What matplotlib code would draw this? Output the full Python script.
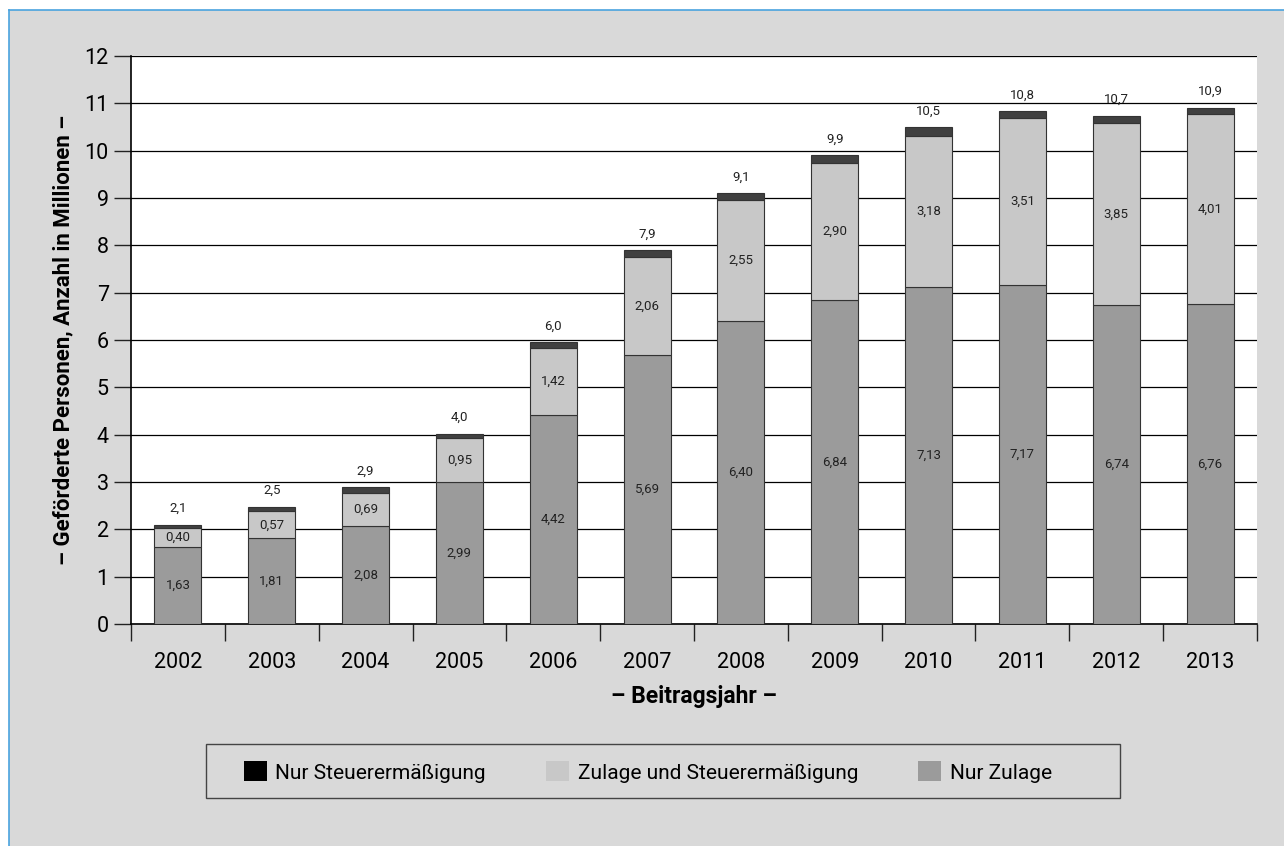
import numpy as np
import matplotlib
matplotlib.use('Agg')
import matplotlib.pyplot as plt
from matplotlib.patches import Rectangle, Patch
from matplotlib.lines import Line2D

plt.rcParams['font.family'] = ['Roboto', 'DejaVu Sans']

# data (Mio. Personen)
years = ['2002', '2003', '2004', '2005', '2006', '2007', '2008', '2009', '2010', '2011', '2012', '2013']
nur_zulage = [1.63, 1.81, 2.08, 2.99, 4.42, 5.69, 6.40, 6.84, 7.13, 7.17, 6.74, 6.76]
zulage_steuer = [0.40, 0.57, 0.69, 0.95, 1.42, 2.06, 2.55, 2.90, 3.18, 3.51, 3.85, 4.01]
nur_steuer = [0.07, 0.10, 0.12, 0.08, 0.12, 0.15, 0.16, 0.16, 0.19, 0.15, 0.15, 0.14]
totals = ['2,1', '2,5', '2,9', '4,0', '6,0', '7,9', '9,1', '9,9', '10,5', '10,8', '10,7', '10,9']

BG = '#d9d9d9'
W, H = 1284, 846
fig = plt.figure(figsize=(W / 100, H / 100), dpi=100)
fig.patch.set_facecolor('white')

# grey panel with blue edge top/left
fig.patches.append(Rectangle((9 / W, 0), 1 - 9 / W, 1 - 10 / H, transform=fig.transFigure,
                             facecolor=BG, edgecolor='none', zorder=-10))
fig.lines.append(Line2D([9 / W, 1], [1 - 10 / H, 1 - 10 / H], transform=fig.transFigure,
                        color='#4aa3df', lw=1.2, zorder=-9))
fig.lines.append(Line2D([9 / W, 9 / W], [0, 1 - 10 / H], transform=fig.transFigure,
                        color='#4aa3df', lw=1.2, zorder=-9))
# legend box
fig.patches.append(Rectangle((206 / W, 1 - 798 / H), (1120 - 206) / W, (798 - 744) / H,
                             transform=fig.transFigure, facecolor=BG, edgecolor='#444444',
                             lw=1.0, zorder=-5))

ax = fig.add_axes([131 / W, 1 - 624 / H, (1257 - 131) / W, (624 - 56) / H])
ax.set_facecolor('white')

x = np.arange(len(years))
w = 0.5
ax.bar(x, nur_zulage, w, color='#9b9b9b', edgecolor='#333333', lw=0.8, zorder=3)
ax.bar(x, zulage_steuer, w, bottom=nur_zulage, color='#c8c8c8', edgecolor='#333333', lw=0.8, zorder=3)
bottom3 = np.array(nur_zulage) + np.array(zulage_steuer)
ax.bar(x, nur_steuer, w, bottom=bottom3, color='#404040', edgecolor='#333333', lw=0.8, zorder=3)

for i in range(len(years)):
    ax.text(x[i], nur_zulage[i] / 2, f'{nur_zulage[i]:.2f}'.replace('.', ','),
            ha='center', va='center', fontsize=9.5, color='#222222', zorder=4)
    ax.text(x[i], nur_zulage[i] + zulage_steuer[i] / 2, f'{zulage_steuer[i]:.2f}'.replace('.', ','),
            ha='center', va='center', fontsize=9.5, color='#222222', zorder=4)
    ax.text(x[i], bottom3[i] + nur_steuer[i] + 0.2, totals[i],
            ha='center', va='bottom', fontsize=9.5, color='#222222', zorder=4)

ax.set_xlim(-0.5, len(years) - 0.5)
ax.set_ylim(0, 12)
ax.set_yticks(range(0, 13))
ax.yaxis.grid(True, color='black', lw=0.9, zorder=1)
ax.set_axisbelow(True)
ax.set_xticks(x)
ax.set_xticklabels(years, fontsize=15.5)
ax.set_xticks(np.arange(-0.5, len(years)), minor=True)
ax.tick_params(axis='x', which='major', length=0, pad=20)
ax.tick_params(axis='x', which='minor', length=12, width=1, color='#222222')
ax.tick_params(axis='y', length=12, width=1, labelsize=15.5, pad=4, color='#222222')
for s in ['top', 'right']:
    ax.spines[s].set_visible(False)
ax.spines['left'].set_linewidth(1.2)
ax.spines['bottom'].set_linewidth(1.2)

ax.set_xlabel('– Beitragsjahr –', fontsize=16.5, fontweight='bold', labelpad=9)
ax.set_ylabel('– Geförderte Personen, Anzahl in Millionen –', fontsize=16, fontweight='bold')
ax.yaxis.set_label_coords(-0.05, 0.5)

handles = [Patch(facecolor='black', edgecolor='none'),
           Patch(facecolor='#c8c8c8', edgecolor='none'),
           Patch(facecolor='#9b9b9b', edgecolor='none')]
labels = ['Nur Steuerermäßigung', 'Zulage und Steuerermäßigung', 'Nur Zulage']
leg = fig.legend(handles, labels, loc='center left', bbox_to_anchor=(244 / W, 1 - 772 / H),
                 ncol=3, fontsize=15, frameon=False, handlelength=1.1, handleheight=1.1,
                 handletextpad=0.4, columnspacing=2.9, borderpad=0, borderaxespad=0)

fig.savefig('out.png', dpi=100, facecolor='white')
